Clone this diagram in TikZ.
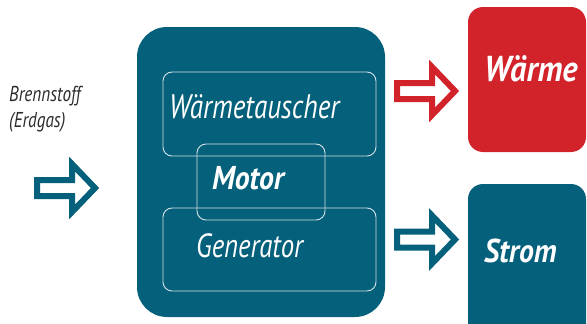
\documentclass[tikz,border=0pt]{standalone}
\usepackage{fontspec}
\setmainfont{PT Sans}[FakeStretch=0.8]
\newfontfamily\boldcond{PT Sans}[FakeStretch=0.9]
\definecolor{teal1}{HTML}{04607B}
\definecolor{red1}{HTML}{D2232A}
\definecolor{txtgray}{HTML}{2B2B2B}
\definecolor{linelight}{HTML}{D5E0E6}
\tikzset{
 mainbox/.style={fill=teal1, draw=none, rounded corners=30pt, inner sep=0pt},
 innerbox/.style={draw=linelight, line width=0.9pt, rounded corners=9pt, inner sep=0pt},
 outbox/.style={draw=none, rounded corners=15pt, inner sep=0pt},
 biglabel/.style={text=white, font=\fontsize{34}{34}\selectfont\itshape, anchor=base west, inner sep=0pt},
 boldlabel/.style={text=white, font=\fontsize{33}{33}\selectfont\boldcond\bfseries\itshape, anchor=base west, inner sep=0pt},
 sidelabel/.style={text=txtgray, font=\fontsize{21.5}{21.5}\selectfont\itshape, anchor=base west, inner sep=0pt},
 blockarrow/.pic={\draw[pic actions, line width=6pt, fill=white, line join=miter]
   (-30,-8) -- (5,-8) -- (5,-24) -- (28,0) -- (5,24) -- (5,8) -- (-30,8) -- cycle;}
}
\begin{document}
\begin{tikzpicture}[x=1pt,y=-1pt]
\useasboundingbox (0,0) rectangle (587,324);
\clip (0,0) rectangle (587,324);
% main block
\node[mainbox, minimum width=248pt, minimum height=290pt] (main) at (261,172) {};
\node[innerbox, minimum width=213pt, minimum height=84pt] (wt) at (269.5,114) {};
\node[innerbox, minimum width=213pt, minimum height=83pt] (gen) at (269.5,249.5) {};
\node[innerbox, minimum width=128pt, minimum height=76pt] (mot) at (261,182) {};
\node[biglabel] (wtl) at (169,118) {Wärmetauscher};
\node[boldlabel] (motl) at (212,189) {Motor};
\node[biglabel, font=\fontsize{33.5}{33.5}\selectfont\itshape] (genl) at (196,257) {Generator};
% outputs
\node[outbox, fill=red1, minimum width=118pt, minimum height=145pt] (waerme) at (527,79.5) {};
\node[outbox, fill=teal1, minimum width=118pt, minimum height=156pt] (strom) at (527,262) {};
\node[boldlabel, font=\fontsize{36}{36}\selectfont\boldcond\bfseries\itshape] (waermel) at (484,81) {Wärme};
\node[boldlabel] (stroml) at (484,262) {Strom};
% input label
\node[sidelabel] (br1) at (9,101) {Brennstoff};
\node[sidelabel] (br2) at (9,127) {(Erdgas)};
% arrows
\pic[draw=teal1] at (67,188) {blockarrow};
\pic[draw=red1] at (427,91) {blockarrow};
\pic[draw=teal1] at (427,239.5) {blockarrow};
\end{tikzpicture}
\end{document}
